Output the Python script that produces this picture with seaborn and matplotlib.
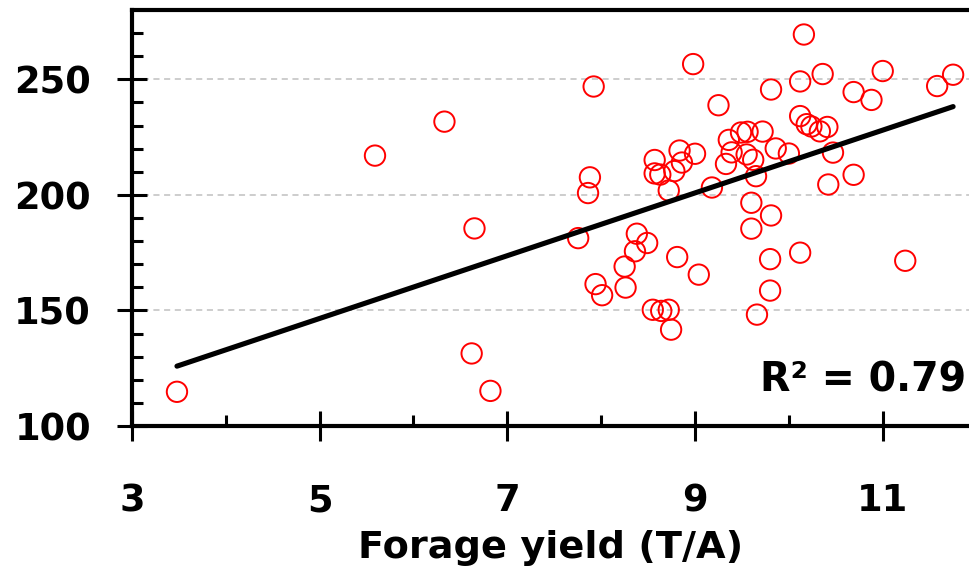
import matplotlib
matplotlib.use("Agg")
import matplotlib.pyplot as plt
import numpy as np
import pandas as pd
import seaborn as sns

# forage yield (T/A) vs. y value
forage_yield = [3.48, 5.59, 6.33, 6.65, 6.62, 6.82, 7.92, 8.98, 10.16, 11.00,
                10.36, 10.12, 11.58, 11.75, 9.81, 10.69, 10.88, 9.25, 10.12, 10.19,
                10.24, 10.33, 10.41, 9.72, 9.49, 9.56, 9.36, 9.86, 10.00, 10.47,
                9.39, 9.55, 9.62, 9.33, 9.65, 10.69, 10.42, 9.00, 8.835, 8.86,
                8.78, 8.57, 8.57, 8.63, 8.72, 9.18, 7.88, 7.86, 9.60, 9.81,
                9.60, 7.755, 8.38, 8.49, 8.36, 8.81, 9.04, 8.25, 8.26, 7.94,
                8.01, 8.55, 8.64, 8.72, 8.745, 9.80, 10.12, 11.24, 9.80, 9.66]
response = [114.8, 217.0, 231.7, 185.5, 131.4, 115.2, 246.9, 256.6, 269.4, 253.6,
            252.3, 249.1, 247.1, 252.0, 245.6, 244.5, 241.1, 238.8, 234.1, 230.6,
            229.6, 227.5, 229.4, 227.4, 227.0, 227.3, 223.8, 220.1, 217.9, 218.3,
            218.4, 217.5, 215.2, 213.4, 208.1, 208.7, 204.5, 217.8, 219.2, 214.0,
            210.3, 215.1, 209.3, 208.8, 201.9, 203.2, 207.6, 200.8, 196.6, 191.1,
            185.4, 181.3, 183.2, 179.2, 175.6, 173.1, 165.5, 169.0, 159.9, 161.4,
            156.6, 150.3, 149.8, 150.3, 141.7, 172.2, 175.0, 171.5, 158.6, 148.2]

x_major = [3, 5, 7, 9, 11]
x_minor = [4, 6, 8, 10]
y_major = [100, 150, 200, 250]

# trendline as printed on the chart
trend_slope = 13.58
trend_intercept = 78.64
r_squared = 0.79

df = pd.DataFrame({"x": forage_yield, "y": response})
x_ends = np.array([df["x"].min(), df["x"].max()])
trend = pd.DataFrame({"x": x_ends, "y": trend_intercept + trend_slope * x_ends})

sns.set_style("ticks")
plt.rcParams["font.family"] = ["DejaVu Sans"]
plt.rcParams["font.weight"] = "bold"
plt.rcParams["text.color"] = "black"
plt.rcParams["xtick.color"] = "black"
plt.rcParams["ytick.color"] = "black"
plt.rcParams["axes.labelcolor"] = "black"

fig = plt.figure(figsize=(9.7, 5.69), dpi=100)
ax = fig.add_axes([0.136, 0.2513, 0.864, 0.7311])

ax.grid(axis="y", which="major", color="#c0c0c0", linestyle=(0, (4, 3)), linewidth=1.1)
ax.set_axisbelow(True)

sns.scatterplot(data=df, x="x", y="y", ax=ax, marker="o", s=215,
                facecolors="none", edgecolor="#ff0000", linewidth=1.4, zorder=3)
sns.lineplot(data=trend, x="x", y="y", ax=ax, color="black", linewidth=3.7, zorder=4)

ax.set_xlim(3, 11.93)
ax.set_ylim(100, 280)
ax.set_xticks(x_major)
ax.set_xticks(x_minor, minor=True)
ax.set_yticks(y_major)
ax.set_yticks([v for v in range(110, 280, 10) if v not in y_major], minor=True)

for side in ["left", "bottom", "top"]:
    ax.spines[side].set_linewidth(3)
    ax.spines[side].set_color("black")
ax.spines["right"].set_visible(False)

ax.tick_params(axis="both", which="major", direction="inout", length=21, width=2.2,
               labelsize=26.5, color="black", labelcolor="black")
ax.tick_params(axis="y", which="major", pad=19)
ax.tick_params(axis="x", which="major", pad=30)
ax.tick_params(axis="both", which="minor", direction="in", length=8, width=2.2, color="black")
for lbl in ax.get_xticklabels() + ax.get_yticklabels():
    lbl.set_fontweight("bold")

ax.set_xlabel("Forage yield (T/A)", fontsize=27.5, fontweight="bold", labelpad=8, color="black")
ax.set_ylabel("")

ax.text(0.995, 0.11, f"R² = {r_squared:.2f}", transform=ax.transAxes,
        ha="right", va="center", fontsize=28.5, fontweight="bold", color="black")

fig.savefig("out.png", dpi=100)
